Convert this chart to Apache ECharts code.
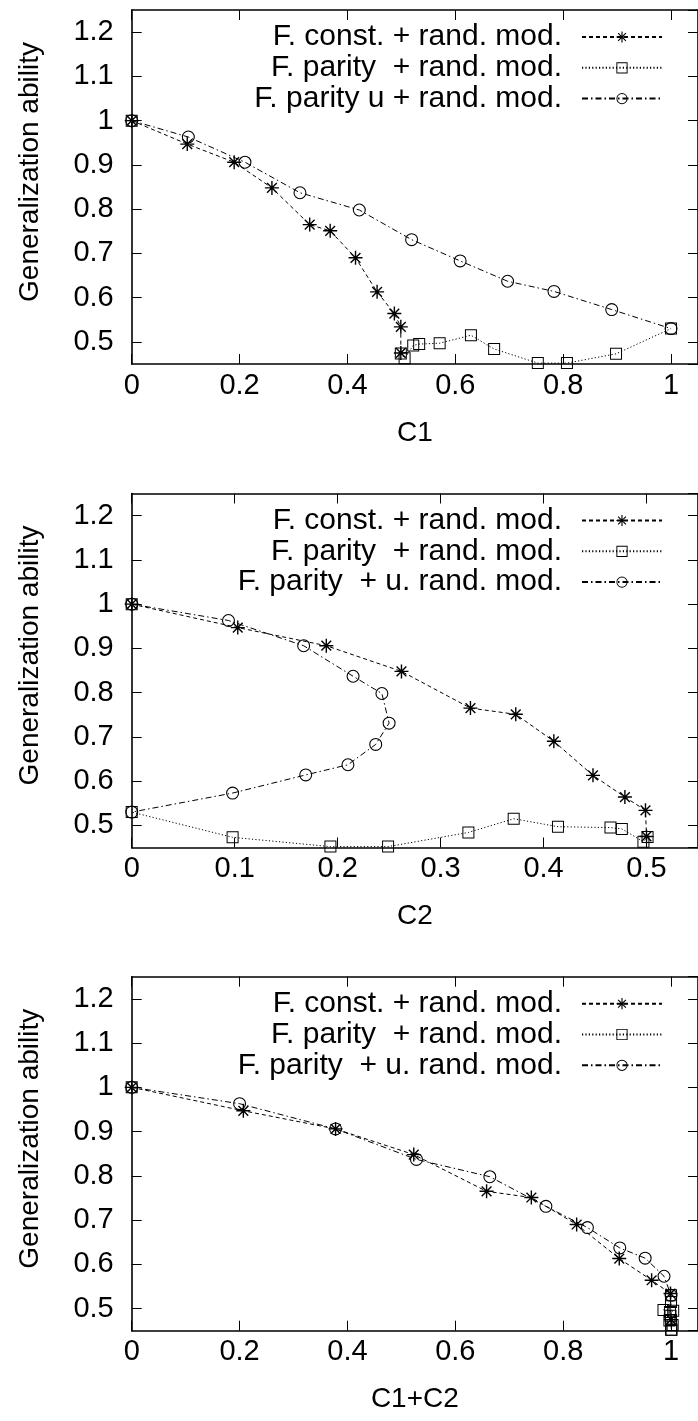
<!DOCTYPE html>
<html><head><meta charset="utf-8">
<script src="https://cdn.jsdelivr.net/npm/echarts@6/dist/echarts.min.js"></script>
<style>html,body{margin:0;padding:0;background:#fff}#c{width:698px;height:1421px}</style>
</head><body><div id="c"></div>
<script>
// ---------- data ----------
const legendNames1 = ['F. const. + rand. mod.', 'F. parity  + rand. mod.', 'F. parity u + rand. mod.'];
const legendNames2 = ['F. const. + rand. mod.', 'F. parity  + rand. mod.', 'F. parity  + u. rand. mod.'];
const xNames = ['C1', 'C2', 'C1+C2'];
const yName = 'Generalization ability';

const xTicksWide = [0, 0.2, 0.4, 0.6, 0.8, 1];
const xTicksC2 = [0, 0.1, 0.2, 0.3, 0.4, 0.5];
const yTicks = [0.5, 0.6, 0.7, 0.8, 0.9, 1, 1.1, 1.2];

// F. const. + rand. mod.
const constY   = [1.0, 0.947, 0.906, 0.848, 0.765, 0.751, 0.690, 0.613, 0.564, 0.534, 0.475];
const constC1  = [0, 0.103, 0.190, 0.260, 0.330, 0.368, 0.415, 0.455, 0.487, 0.499, 0.499];
const constC2  = [0, 0.103, 0.189, 0.262, 0.329, 0.373, 0.410, 0.448, 0.479, 0.499, 0.500];
const constSum = [0, 0.207, 0.378, 0.523, 0.658, 0.741, 0.825, 0.904, 0.964, 0.999, 1.000];

// F. parity + rand. mod.
const parityY   = [0.474, 0.463, 0.492, 0.495, 0.497, 0.515, 0.484, 0.452, 0.452, 0.473, 0.530];
const parityC1  = [0.499, 0.506, 0.522, 0.533, 0.571, 0.629, 0.672, 0.753, 0.807, 0.898, 1.000];
const parityC2  = [0.501, 0.497, 0.476, 0.465, 0.414, 0.371, 0.327, 0.249, 0.193, 0.098, 0];
const paritySum = [1.000, 1.003, 0.998, 1.004, 0.986, 1.000, 0.999, 1.001, 1.000, 0.997, 1.000];
const parityStartX = [0];
const parityStartY = [1.0];

// F. parity u + rand. mod.
const parUY   = [1.0, 0.963, 0.906, 0.837, 0.798, 0.731, 0.683, 0.637, 0.614, 0.573, 0.530];
const parUC1  = [0, 0.105, 0.210, 0.312, 0.422, 0.519, 0.609, 0.697, 0.783, 0.890, 1.000];
const parUC2  = [0, 0.094, 0.167, 0.215, 0.243, 0.250, 0.237, 0.210, 0.169, 0.098, 0];
const parUSum = [0, 0.200, 0.378, 0.528, 0.664, 0.768, 0.845, 0.905, 0.952, 0.987, 1.000];

// ---------- styles ----------
const FONT = "'Liberation Sans', Arial, Helvetica, sans-serif";
const FS = 28, FS_TICK = 29, FS_LEG = 30;
const STAR = 'path://M-6,-0.6H6V0.6H-6Z M-0.6,-6H0.6V6H-0.6Z M-4.6,-3.75L-3.75,-4.6L4.6,3.75L3.75,4.6Z M3.75,-4.6L4.6,-3.75L-3.75,4.6L-4.6,3.75Z';
const SQUARE = 'path://M-6,-6H6V6H-6Z M-5,-5V5H5V-5Z';
const CIRCLE = 'path://M0,-6A6,6 0 1,1 0,6A6,6 0 1,1 0,-6Z M0,-5A5,5 0 1,0 0,5A5,5 0 1,0 0,-5Z';
const DASH = [4, 3], DOT = [1.2, 2.2], DASHDOT = [6, 3, 1.5, 3];

const panels = [
  {top: 10,    xMax: 1.05, xInt: 0.2, xTicks: xTicksWide, names: legendNames1,
   cx: constC1, px: parityC1, ux: parUC1},
  {top: 493.5, xMax: 0.55, xInt: 0.1, xTicks: xTicksC2, names: legendNames2,
   cx: constC2, px: parityC2, ux: parUC2},
  {top: 976.7, xMax: 1.05, xInt: 0.2, xTicks: xTicksWide, names: legendNames2,
   cx: constSum, px: paritySum, ux: parUSum}
];
const GH = 354;

const zip = (xs, ys) => xs.map((x, i) => [x, ys[i]]);
const axisLine = {show: true, onZero: false, lineStyle: {color: '#000', width: 1.6}};
const tick = {show: true, inside: true, length: 10, lineStyle: {color: '#000', width: 1}};
const lbl = {color: '#000', fontSize: FS_TICK, fontFamily: FONT};

const grid = [], xAxis = [], yAxis = [], series = [], legend = [];
panels.forEach((p, i) => {
  grid.push({left: 131.7, top: p.top, width: 571, height: GH, containLabel: false});
  // bottom x
  xAxis.push({type: 'value', gridIndex: i, position: 'bottom', min: 0, max: p.xMax, interval: p.xInt,
    axisLine, axisTick: tick, splitLine: {show: false},
    axisLabel: Object.assign({margin: 7, showMaxLabel: false,
      formatter: v => (p.xTicks.some(t => Math.abs(t - v) < 1e-9) ? String(+v.toFixed(2)) : '')}, lbl),
    name: xNames[i], nameLocation: 'middle', nameGap: 55,
    nameTextStyle: {color: '#000', fontSize: FS, fontFamily: FONT}});
  // top x (mirror)
  xAxis.push({type: 'value', gridIndex: i, position: 'top', min: 0, max: p.xMax, interval: p.xInt,
    axisLine, axisTick: tick, splitLine: {show: false}, axisLabel: {show: false}});
  // left y
  yAxis.push({type: 'value', gridIndex: i, position: 'left', min: 0.45, max: 1.25,
    splitNumber: 8, minInterval: 0.1, maxInterval: 0.1,
    axisLine, axisTick: tick, splitLine: {show: false},
    axisLabel: Object.assign({margin: 18, showMinLabel: false, showMaxLabel: false,
      formatter: v => (yTicks.some(t => Math.abs(t - v) < 1e-9) ? String(+v.toFixed(2)) : '')}, lbl),
    name: yName, nameLocation: 'middle', nameGap: 87,
    nameTextStyle: {color: '#000', fontSize: FS, fontFamily: FONT, padding: [0, 0, 0, 30]}});
  // right y (mirror)
  yAxis.push({type: 'value', gridIndex: i, position: 'right', min: 0.45, max: 1.25,
    splitNumber: 8, minInterval: 0.1, maxInterval: 0.1,
    axisLine, axisTick: tick, splitLine: {show: false}, axisLabel: {show: false}});

  const xi = i * 2, yi = i * 2;
  const base = {type: 'line', xAxisIndex: xi, yAxisIndex: yi, showSymbol: true, clip: false,
    animation: false, silent: true, emphasis: {disabled: true}, z: 3};
  series.push(Object.assign({}, base, {name: p.names[0], data: zip(p.cx, constY),
    symbol: STAR, symbolSize: 14, itemStyle: {color: '#000'},
    lineStyle: {color: '#000', width: 1, type: DASH}}));
  series.push(Object.assign({}, base, {name: p.names[1], data: zip(p.px, parityY),
    symbol: SQUARE, symbolSize: 12, itemStyle: {color: '#000'},
    lineStyle: {color: '#000', width: 1, type: DOT}}));
  series.push(Object.assign({}, base, {name: p.names[2], data: zip(p.ux, parUY),
    symbol: CIRCLE, symbolSize: 13, itemStyle: {color: '#000'},
    lineStyle: {color: '#000', width: 1, type: DASHDOT}}));
  series.push(Object.assign({}, base, {name: p.names[1], data: zip(parityStartX, parityStartY),
    symbol: SQUARE, symbolSize: 12, itemStyle: {color: '#000'},
    lineStyle: {color: '#000', width: 1, type: DOT}}));

  legend.push({data: p.names, orient: 'vertical', align: 'right', right: 35, top: p.top + 12,
    itemWidth: 80, itemHeight: 14, itemGap: 0.8, padding: 0, selectedMode: false,
    textStyle: {color: '#000', fontSize: FS_LEG, fontFamily: FONT, lineHeight: 30, padding: [0, 15, 0, 0]}});
});

const chart = echarts.init(document.getElementById('c'), null, {renderer: 'canvas'});
chart.setOption({animation: false, backgroundColor: '#fff', grid, xAxis, yAxis, series, legend});
</script>
</body></html>
